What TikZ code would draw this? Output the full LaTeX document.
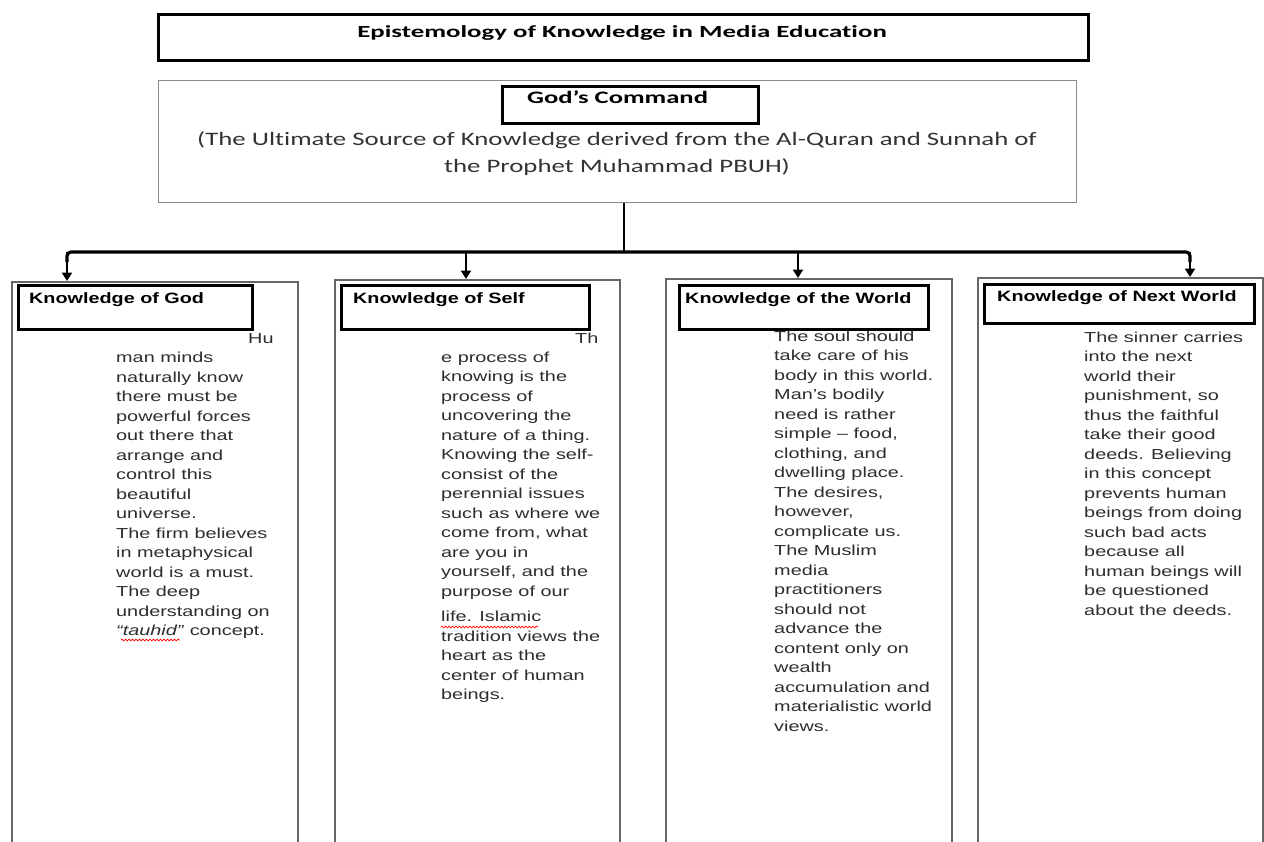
\documentclass[tikz,border=0pt]{standalone}
\usepackage{fontspec}
\usetikzlibrary{arrows.meta,decorations.pathmorphing}
\newfontfamily\bodyf[FakeStretch=1.37]{Liberation Sans}
\newfontfamily\headf[FakeStretch=1.32]{Liberation Sans}
\newfontfamily\titlef[FakeStretch=1.58,Ligatures=NoCommon]{Carlito}
\newfontfamily\calf[FakeStretch=1.52,Ligatures=NoCommon]{Carlito}
\newfontfamily\calsub[FakeStretch=1.41,Ligatures=NoCommon]{Carlito}
\definecolor{txt}{HTML}{2E2E2E}
\definecolor{frame}{HTML}{8A8A8A}
\tikzset{
  box/.style={draw=black, line width=2.6pt, inner sep=0pt, anchor=north west},
  thinbox/.style={draw=frame, line width=1.4pt, inner sep=0pt, anchor=north west},
  colbox/.style={draw=black!60, line width=1.5pt, inner sep=0pt, anchor=north west, minimum height=600pt},
  headtext/.style={inner sep=0pt, anchor=base west, font=\headf\bfseries\fontsize{15}{18}\selectfont},
  bodytext/.style={inner sep=0pt, anchor=base west, align=left, text=txt, font=\bodyf\fontsize{14.5}{19.5}\selectfont},
  conn/.style={line width=3.2pt, black},
  arr/.style={line width=2.6pt, black, -{Triangle[length=8.5pt,width=10pt]}},
  spell/.style={red, line width=0.7pt, decorate, decoration={snake, amplitude=0.9pt, segment length=3.5pt}},
}
\begin{document}
\begin{tikzpicture}[x=1pt,y=-1pt]
\useasboundingbox (0,0) rectangle (1264,841);
\clip (0,0) rectangle (1264,841);
\fill[white] (0,0) rectangle (1264,841);

% title
\node[box, minimum width=930pt, minimum height=46pt] (title) at (157,13) {};
\node[inner sep=0pt, anchor=base, font=\titlef\bfseries\fontsize{17}{20}\selectfont] (titletxt) at (622,37) {Epistemology of Knowledge in Media Education};

% God's command
\node[thinbox, minimum width=918pt, minimum height=122pt] (godouter) at (158,80) {};
\node[box, minimum width=256pt, minimum height=37pt] (godinner) at (501,85) {};
\node[inner sep=0pt, anchor=base west, font=\calf\bfseries\fontsize{17.5}{20}\selectfont] (godtxt) at (527,103) {God’s Command};
\node[inner sep=0pt, anchor=base, align=center, text=black!80, font=\calsub\fontsize{19}{27}\selectfont] (source) at (617,172)
  {(The Ultimate Source of Knowledge derived from the Al-Quran and Sunnah of\\the Prophet Muhammad PBUH)};

% columns
\node[colbox, minimum width=286pt] (c1) at (11,281) {};
\node[colbox, minimum width=285pt] (c2) at (334,279) {};
\node[colbox, minimum width=286pt] (c3) at (665,278) {};
\node[colbox, minimum width=285pt] (c4) at (977,277) {};

\node[box, minimum width=234pt, minimum height=44pt] (h1) at (17,284) {};
\node[box, minimum width=248pt, minimum height=44pt] (h2) at (340,284) {};
\node[box, minimum width=249pt, minimum height=44pt] (h3) at (678,284) {};
\node[box, minimum width=270pt, minimum height=39pt] (h4) at (983,283) {};

\node[headtext] (h1t) at (29,303) {Knowledge of God};
\node[headtext] (h2t) at (353,303) {Knowledge of Self};
\node[headtext] (h3t) at (685,303) {Knowledge of the World};
\node[headtext] (h4t) at (997,301) {Knowledge of Next World};

% connectors
\coordinate (j0) at (624,252);
\coordinate (j1) at (67,252);
\coordinate (j2) at (466,252);
\coordinate (j3) at (798,252);
\coordinate (j4) at (1190,252);
\draw[line width=2.6pt] (j0 |- godouter.south) -- (j0);
\draw[conn, rounded corners=4pt] (67,262) -- (j1) -- (j4) -- (1190,262);
\draw[arr] (j1) -- (j1 |- c1.north);
\draw[arr] (j2) -- (j2 |- c2.north);
\draw[arr] (j3) -- (j3 |- c3.north);
\draw[arr] (j4) -- (j4 |- c4.north);

% body texts (anchor = baseline of the last line)
\node[bodytext] (b1a) at (248,343) {Hu};
\node[bodytext] (b1) at (116,635.5) {man minds\\naturally know\\there must be\\powerful forces\\out there that\\arrange and\\control this\\beautiful\\universe.\\The firm believes\\in metaphysical\\world is a must.\\The deep\\understanding on\\\textit{“tauhid”} concept.};
\draw[spell] (121,640) -- (180,640);

\node[bodytext] (b2a) at (575,343) {Th};
\node[bodytext] (b2) at (441,699.5) {e process of\\knowing is the\\process of\\uncovering the\\nature of a thing.\\Knowing the self-\\consist of the\\perennial issues\\such as where we\\come from, what\\are you in\\yourself, and the\\purpose of our\\[6pt]life. Islamic\\tradition views the\\heart as the\\center of human\\beings.};
\draw[spell] (441,627) -- (538,627);

\node[bodytext] (b3) at (774,731) {The soul should\\take care of his\\body in this world.\\Man’s bodily\\need is rather\\simple – food,\\clothing, and\\dwelling place.\\The desires,\\however,\\complicate us.\\The Muslim\\media\\practitioners\\should not\\advance the\\content only on\\wealth\\accumulation and\\materialistic world\\views.};

\node[bodytext] (b4) at (1084,615) {The sinner carries\\into the next\\world their\\punishment, so\\thus the faithful\\take their good\\deeds. Believing\\in this concept\\prevents human\\beings from doing\\such bad acts\\because all\\human beings will\\be questioned\\about the deeds.};
\end{tikzpicture}
\end{document}
